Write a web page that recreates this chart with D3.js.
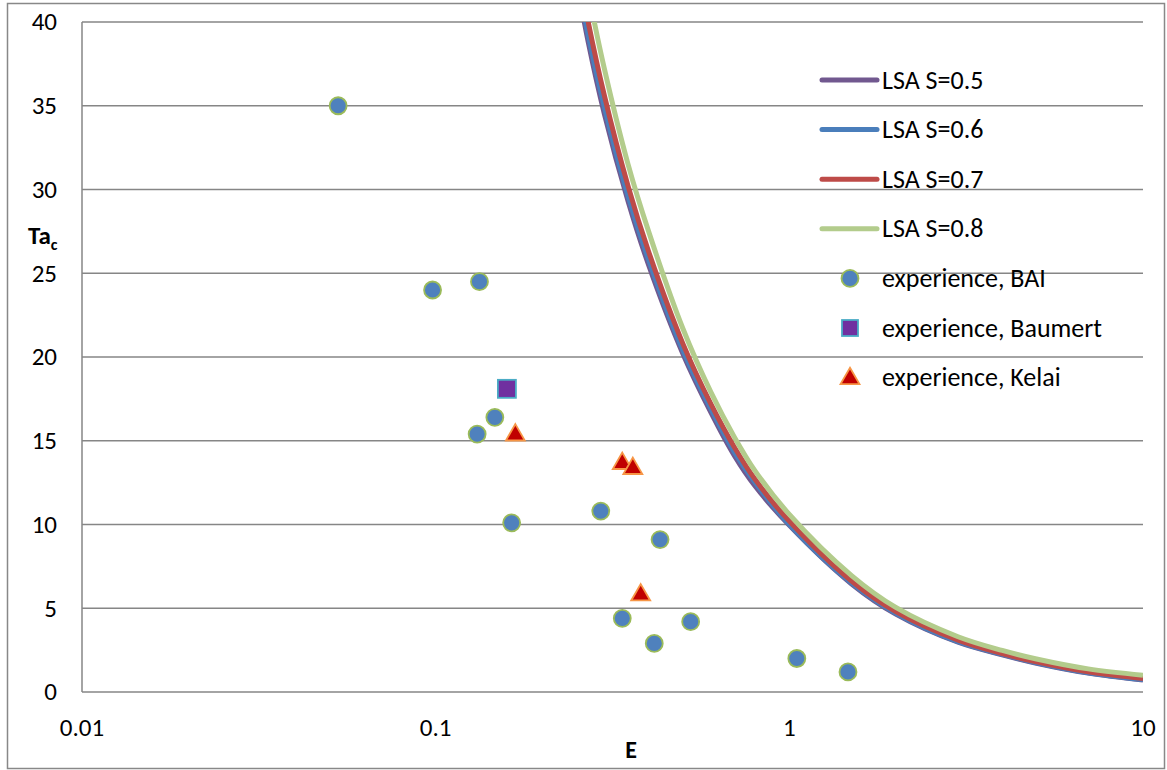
<!DOCTYPE html>
<html>
<head>
<meta charset="utf-8">
<script src="https://cdn.jsdelivr.net/npm/d3@7"></script>
<style>
  body { margin: 0; background: #fff; }
  svg text { font-family: Carlito, Calibri, "Open Sans", sans-serif; fill: #000; }
</style>
</head>
<body>
<svg id="chart" width="1167" height="770"></svg>
<script>
// LSA curves, all sampled on the same E values
var eGrid = [0.25, 0.27, 0.3, 0.35, 0.4, 0.5, 0.6, 0.7, 0.8, 1, 1.5, 2, 3, 4, 5, 7, 10];
var lsaS05 = [42.6, 38.8, 34.5, 29.3, 25.5, 20.2, 16.7, 14.1, 12.3, 9.95, 6.45, 4.65, 2.97, 2.22, 1.72, 1.13, 0.72];
var lsaS06 = [43.0, 39.2, 34.9, 29.6, 25.8, 20.4, 16.9, 14.3, 12.5, 10.0, 6.5, 4.7, 3.0, 2.25, 1.75, 1.15, 0.74];
var lsaS07 = [43.8, 40.0, 35.6, 30.2, 26.3, 20.8, 17.2, 14.6, 12.7, 10.2, 6.62, 4.8, 3.1, 2.3, 1.8, 1.2, 0.8];
var lsaS08 = [45.6, 41.8, 37.2, 31.5, 27.5, 21.7, 17.9, 15.2, 13.2, 10.6, 6.95, 5.05, 3.3, 2.48, 1.97, 1.38, 1.0];

// experiments
var baiE  = [0.053, 0.098, 0.133, 0.147, 0.131, 0.164, 0.293, 0.431, 0.337, 0.415, 0.526, 1.05, 1.465];
var baiTa = [35.0, 24.0, 24.5, 16.4, 15.4, 10.1, 10.8, 9.1, 4.4, 2.9, 4.2, 2.0, 1.2];
var baumertE  = [0.159];
var baumertTa = [18.1];
var kelaiE  = [0.168, 0.337, 0.361, 0.380];
var kelaiTa = [15.4, 13.7, 13.4, 5.85];

var xTicks = [0.01, 0.1, 1, 10];
var yTicks = [0, 5, 10, 15, 20, 25, 30, 35, 40];

var lineSeries = [
  { name: "LSA S=0.5", ta: lsaS05, color: "#71588f" },
  { name: "LSA S=0.6", ta: lsaS06, color: "#4a7ebb" },
  { name: "LSA S=0.7", ta: lsaS07, color: "#be4b48" },
  { name: "LSA S=0.8", ta: lsaS08, color: "#b3cc8c" }
];

var svg = d3.select("#chart"),
    margin = {top: 22, right: 24, bottom: 78, left: 82},
    width = 1167 - margin.left - margin.right,
    height = 770 - margin.top - margin.bottom;

svg.append("rect")
    .attr("x", 7.5).attr("y", 3.5)
    .attr("width", 1157).attr("height", 765)
    .attr("fill", "#fff").attr("stroke", "#888").attr("stroke-width", 1.5);

var x = d3.scaleLog().domain([0.01, 10]).range([0, width]),
    y = d3.scaleLinear().domain([0, 40]).range([height, 0]);

var g = svg.append("g")
    .attr("transform", "translate(" + margin.left + "," + margin.top + ")");

// gridlines
g.selectAll(".grid")
  .data(yTicks)
  .enter().append("line")
    .attr("x1", 0).attr("x2", width)
    .attr("y1", function(d) { return y(d); })
    .attr("y2", function(d) { return y(d); })
    .attr("stroke", "#868686").attr("stroke-width", 1.5);

g.append("line")
    .attr("x1", 0).attr("x2", 0).attr("y1", 0).attr("y2", height)
    .attr("stroke", "#868686").attr("stroke-width", 1.5);

// tick labels
g.selectAll(".ytick")
  .data(yTicks)
  .enter().append("text")
    .attr("x", -25)
    .attr("y", function(d) { return y(d); })
    .attr("dy", "0.33em")
    .attr("text-anchor", "end")
    .style("font-size", "25px")
    .text(function(d) { return d; });

g.selectAll(".xtick")
  .data(xTicks)
  .enter().append("text")
    .attr("x", function(d) { return x(d); })
    .attr("y", height + 44)
    .attr("text-anchor", "middle")
    .style("font-size", "25px")
    .text(function(d) { return d; });

// axis titles
svg.append("text")
    .attr("x", 631).attr("y", 758)
    .attr("text-anchor", "middle")
    .style("font-size", "24px").style("font-weight", "bold")
    .text("E");

var taLabel = svg.append("text")
    .attr("x", 28).attr("y", 244)
    .style("font-size", "25px").style("font-weight", "bold");
taLabel.append("tspan").text("Ta");
taLabel.append("tspan").attr("dy", 6).style("font-size", "16px").text("c");

// curves
g.append("clipPath").attr("id", "plot-clip")
  .append("rect").attr("width", width).attr("height", height);

var line = d3.line()
    .x(function(d) { return x(d[0]); })
    .y(function(d) { return y(d[1]); })
    .curve(d3.curveCatmullRom.alpha(0.5));

g.selectAll(".lsa")
  .data(lineSeries)
  .enter().append("path")
    .attr("class", "lsa")
    .attr("clip-path", "url(#plot-clip)")
    .attr("fill", "none")
    .attr("stroke", function(d) { return d.color; })
    .attr("stroke-width", 5)
    .attr("d", function(d) { return line(d3.zip(eGrid, d.ta)); });

// markers
var triangle = d3.symbol().type(d3.symbolTriangle).size(155);

g.selectAll(".bai")
  .data(d3.zip(baiE, baiTa))
  .enter().append("circle")
    .attr("cx", function(d) { return x(d[0]); })
    .attr("cy", function(d) { return y(d[1]); })
    .attr("r", 8.5)
    .attr("fill", "#4f81bd").attr("stroke", "#9bbb59").attr("stroke-width", 1.8);

g.selectAll(".baumert")
  .data(d3.zip(baumertE, baumertTa))
  .enter().append("rect")
    .attr("x", function(d) { return x(d[0]) - 9; })
    .attr("y", function(d) { return y(d[1]) - 9; })
    .attr("width", 18).attr("height", 18)
    .attr("fill", "#7030a0").attr("stroke", "#4bacc6").attr("stroke-width", 1.8);

g.selectAll(".kelai")
  .data(d3.zip(kelaiE, kelaiTa))
  .enter().append("path")
    .attr("transform", function(d) { return "translate(" + x(d[0]) + "," + (y(d[1]) + 1) + ")"; })
    .attr("d", triangle)
    .attr("fill", "#c00000").attr("stroke", "#f79646").attr("stroke-width", 1.8);

// legend
var legendItems = lineSeries.map(function(s) { return { name: s.name, type: "line", color: s.color }; })
  .concat([
    { name: "experience, BAI", type: "circle" },
    { name: "experience, Baumert", type: "square" },
    { name: "experience, Kelai", type: "triangle" }
  ]);

var legend = svg.append("g").attr("transform", "translate(822,80)");
var rows = legend.selectAll(".row")
  .data(legendItems)
  .enter().append("g")
    .attr("transform", function(d, i) { return "translate(0," + (i * 49.6) + ")"; });

rows.filter(function(d) { return d.type === "line"; })
  .append("line")
    .attr("x1", 0).attr("x2", 55).attr("y1", 0).attr("y2", 0)
    .attr("stroke", function(d) { return d.color; })
    .attr("stroke-width", 5).attr("stroke-linecap", "round");

rows.filter(function(d) { return d.type === "circle"; })
  .append("circle")
    .attr("cx", 28).attr("cy", 0).attr("r", 8.5)
    .attr("fill", "#4f81bd").attr("stroke", "#9bbb59").attr("stroke-width", 1.8);

rows.filter(function(d) { return d.type === "square"; })
  .append("rect")
    .attr("x", 20).attr("y", -8).attr("width", 16).attr("height", 16)
    .attr("fill", "#7030a0").attr("stroke", "#4bacc6").attr("stroke-width", 1.8);

rows.filter(function(d) { return d.type === "triangle"; })
  .append("path")
    .attr("transform", "translate(28,1)")
    .attr("d", triangle)
    .attr("fill", "#c00000").attr("stroke", "#f79646").attr("stroke-width", 1.8);

rows.append("text")
    .attr("x", 60).attr("y", 0).attr("dy", "0.33em")
    .style("font-size", "26px")
    .text(function(d) { return d.name; });
</script>
</body>
</html>
